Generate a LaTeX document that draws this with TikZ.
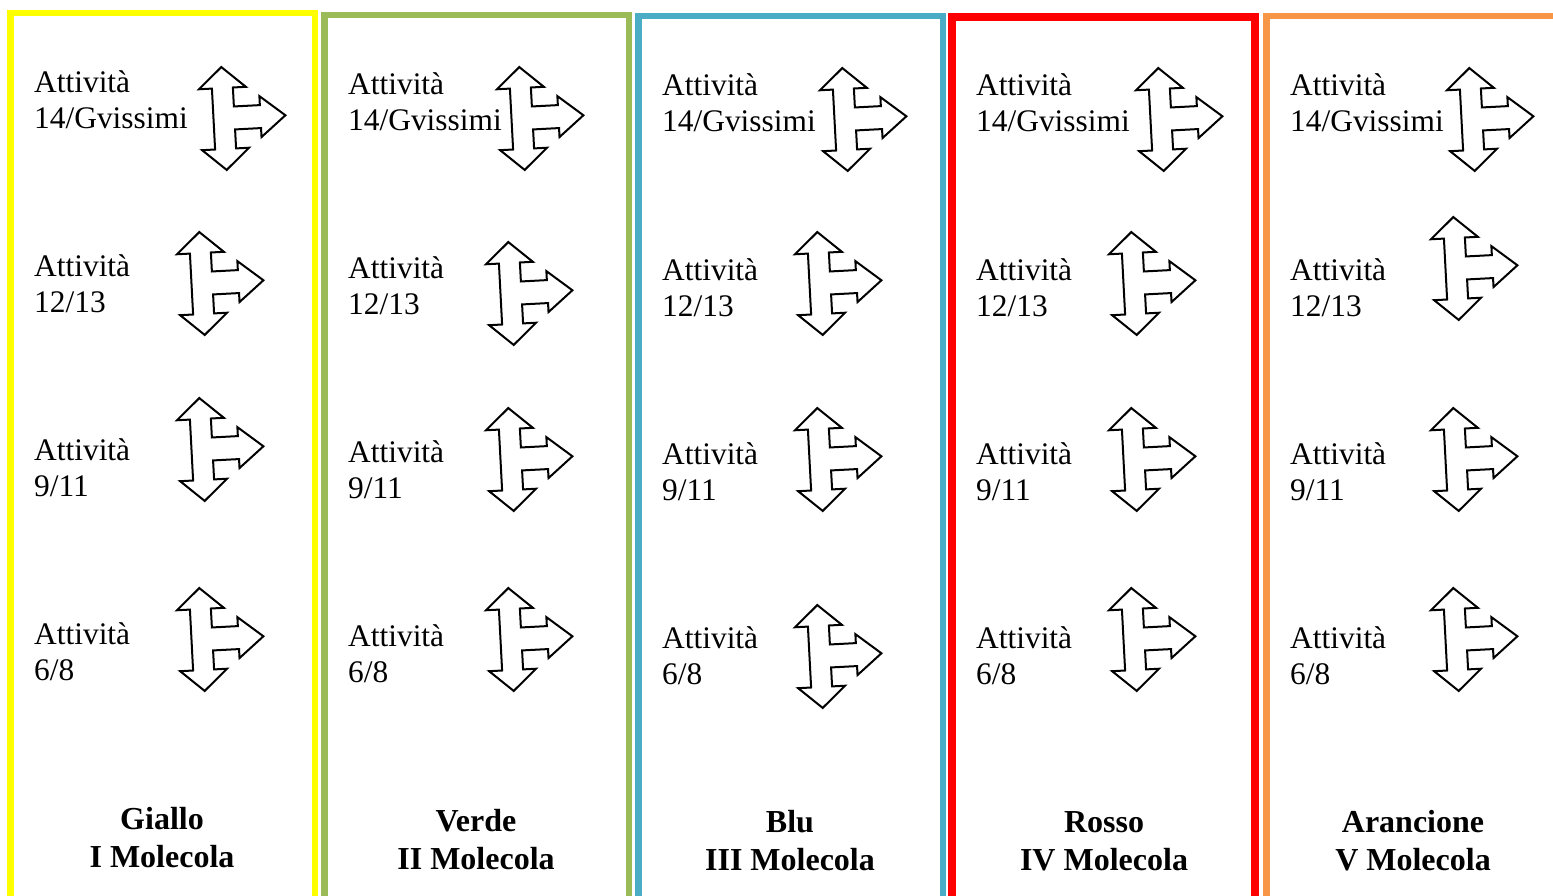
\documentclass[tikz,border=0pt]{standalone}
\usepackage{fontspec}
\setmainfont{Liberation Serif}
\definecolor{cyellow}{HTML}{FFFF00}
\definecolor{cgreen}{HTML}{9BBB59}
\definecolor{cblue}{HTML}{4BACC6}
\definecolor{cred}{HTML}{FF0000}
\definecolor{corange}{HTML}{F79646}
\tikzset{
  lbl/.style={anchor=north west, inner sep=0pt, align=left, font=\fontsize{31.4}{36}\selectfont},
  mol/.style={anchor=north, inner sep=0pt, align=center, font=\fontsize{32}{38}\selectfont\bfseries},
  arrowshape/.style={draw=black, line width=2pt, fill=white, line join=miter},
  frame/.style={line width=6.5pt, line join=miter},
  triarrow/.pic={
    \draw[arrowshape, rotate=3] (0,-51.5) -- (23.5,-30.5) -- (10.5,-30.5) -- (10.5,-11.5)
      -- (36.5,-11.5) -- (36.5,-20.5) -- (61.5,0) -- (36.5,20.5) -- (36.5,11.5)
      -- (10.5,11.5) -- (10.5,30.5) -- (23.5,30.5) -- (0,51.5) -- (-23.5,30.5)
      -- (-10.5,30.5) -- (-10.5,-30.5) -- (-23.5,-30.5) -- cycle;
  }
}
\begin{document}
\begin{tikzpicture}[x=1pt,y=-1pt]
\useasboundingbox (0,0) rectangle (1553,896);
\clip (0,0) rectangle (1553,896);
\fill[white] (0,0) rectangle (1553,896);
% frames
\draw[frame, cyellow] (10.25,910) -- (10.25,13.25) -- (314.75,13.25) -- (314.75,910);
\draw[frame, cgreen] (324.25,910) -- (324.25,15.25) -- (628.75,15.25) -- (628.75,910);
\draw[frame, cblue] (638.25,910) -- (638.25,16.25) -- (942.75,16.25) -- (942.75,910);
\draw[frame, cred, line width=8pt] (952,910) -- (952,17) -- (1255,17) -- (1255,910);
\draw[frame, corange] (1266.25,910) -- (1266.25,16.25) -- (1600,16.25);
% column 1: yellow
\node[lbl] (y1) at (34,66.8) {\strut Attività\\14/Gvissimi};
\node[lbl] (y2) at (34,250.8) {\strut Attività\\12/13};
\node[lbl] (y3) at (34,434.8) {\strut Attività\\9/11};
\node[lbl] (y4) at (34,618.8) {\strut Attività\\6/8};
\pic (ya1) at (224,118.5) {triarrow};
\pic (ya2) at (202,283.5) {triarrow};
\pic (ya3) at (202,449.5) {triarrow};
\pic (ya4) at (202,639.5) {triarrow};
\node[mol] (ym) at (162,802.4) {\strut Giallo\\I Molecola};
% column 2: green
\node[lbl] (g1) at (348,68.8) {\strut Attività\\14/Gvissimi};
\node[lbl] (g2) at (348,252.8) {\strut Attività\\12/13};
\node[lbl] (g3) at (348,436.8) {\strut Attività\\9/11};
\node[lbl] (g4) at (348,620.8) {\strut Attività\\6/8};
\pic (ga1) at (522,118.5) {triarrow};
\pic (ga2) at (511,293.5) {triarrow};
\pic (ga3) at (511,459.5) {triarrow};
\pic (ga4) at (511,639.5) {triarrow};
\node[mol] (gm) at (476,804.4) {\strut Verde\\II Molecola};
% column 3: blue
\node[lbl] (b1) at (662,69.8) {\strut Attività\\14/Gvissimi};
\node[lbl] (b2) at (662,254.8) {\strut Attività\\12/13};
\node[lbl] (b3) at (662,438.8) {\strut Attività\\9/11};
\node[lbl] (b4) at (662,622.8) {\strut Attività\\6/8};
\pic (ba1) at (845,119.5) {triarrow};
\pic (ba2) at (820,283.5) {triarrow};
\pic (ba3) at (820,459.5) {triarrow};
\pic (ba4) at (820,656.5) {triarrow};
\node[mol] (bm) at (790,805.4) {\strut Blu\\III Molecola};
% column 4: red
\node[lbl] (r1) at (976,69.8) {\strut Attività\\14/Gvissimi};
\node[lbl] (r2) at (976,254.8) {\strut Attività\\12/13};
\node[lbl] (r3) at (976,438.8) {\strut Attività\\9/11};
\node[lbl] (r4) at (976,622.8) {\strut Attività\\6/8};
\pic (ra1) at (1161,119.5) {triarrow};
\pic (ra2) at (1134,283.5) {triarrow};
\pic (ra3) at (1134,459.5) {triarrow};
\pic (ra4) at (1134,639.5) {triarrow};
\node[mol] (rm) at (1104,805.4) {\strut Rosso\\IV Molecola};
% column 5: orange
\node[lbl] (o1) at (1290,69.8) {\strut Attività\\14/Gvissimi};
\node[lbl] (o2) at (1290,254.8) {\strut Attività\\12/13};
\node[lbl] (o3) at (1290,438.8) {\strut Attività\\9/11};
\node[lbl] (o4) at (1290,622.8) {\strut Attività\\6/8};
\pic (oa1) at (1472,119.5) {triarrow};
\pic (oa2) at (1456,268.5) {triarrow};
\pic (oa3) at (1456,459.5) {triarrow};
\pic (oa4) at (1456,639.5) {triarrow};
\node[mol] (om) at (1413,805.4) {\strut Arancione\\V Molecola};
\end{tikzpicture}
\end{document}
